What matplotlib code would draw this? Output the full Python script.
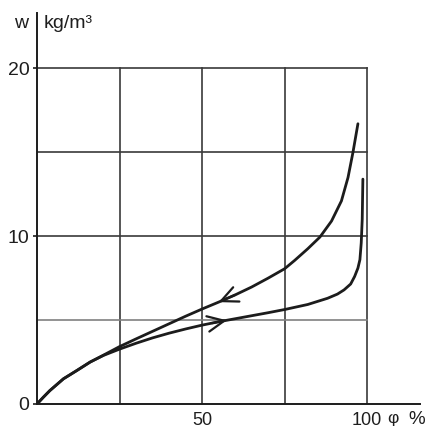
import matplotlib
matplotlib.use("Agg")
import matplotlib.pyplot as plt

# Data
adsorption_x = [0, 1.9, 3.9, 8, 12.1, 16.1, 20.2, 25, 30, 35, 40, 45, 50, 55, 60, 65, 70, 75,
                82, 88, 91, 93, 95, 96.2, 97.2, 97.8, 98.2, 98.5, 98.7]
adsorption_y = [0, 0.4, 0.8, 1.5, 2.0, 2.5, 2.9, 3.27, 3.62, 3.94, 4.22, 4.47, 4.7, 4.9, 5.08, 5.26, 5.44, 5.63,
                5.93, 6.3, 6.55, 6.8, 7.15, 7.6, 8.1, 8.6, 9.6, 11.0, 13.4]
desorption_x = [0, 1.9, 3.9, 8, 12.1, 16.1, 20.2, 25, 30, 35, 40, 45, 50, 55, 60, 65, 70, 75,
                78, 82, 85.7, 89.2, 92.2, 94.2, 95.7, 97.2]
desorption_y = [0, 0.4, 0.8, 1.5, 2.0, 2.5, 2.92, 3.42, 3.88, 4.33, 4.78, 5.23, 5.66, 6.07, 6.5, 6.97, 7.5, 8.06,
                8.55, 9.25, 9.95, 10.9, 12.1, 13.5, 15.0, 16.7]
grid_x = [25, 50, 75, 100]
grid_y = [5, 10, 15, 20]
xtick_vals = [50, 100]
xtick_labels = ["50", "100"]
ytick_vals = [0, 10, 20]
ytick_labels = ["0", "10", "20"]

plt.rcParams['font.family'] = ['Liberation Sans', 'DejaVu Sans']

W, H = 429, 428
fig = plt.figure(figsize=(W / 100, H / 100), dpi=100)
ax = fig.add_axes([37 / W, (H - 404) / H, (420 - 37) / W, (404 - 13) / H])
ax.set_xlim(0, 116)
ax.set_ylim(0, 23.3)

ink = '#1c1c1c'
txt = '#1e1e1e'
for gx in grid_x:
    ax.plot([gx, gx], [0, 20], color='#3a3a3a', lw=1.2, zorder=1)
for gy in grid_y:
    c = '#808080' if gy == 5 else '#3a3a3a'
    ax.plot([0, 100], [gy, gy], color=c, lw=1.2, zorder=1)

ax.plot(adsorption_x, adsorption_y, color=ink, lw=2.0, zorder=3,
        solid_capstyle='round', solid_joinstyle='round')
ax.plot(desorption_x, desorption_y, color=ink, lw=2.0, zorder=3,
        solid_capstyle='round', solid_joinstyle='round')

# direction arrows (open chevrons)
head = '->, head_length=0.6, head_width=0.28'
ax.annotate('', xy=(55.0, 6.07), xytext=(60, 6.5),
            arrowprops=dict(arrowstyle=head, color=ink, lw=1.6, mutation_scale=20,
                            shrinkA=0, shrinkB=0), zorder=4)
ax.annotate('', xy=(57.5, 4.99), xytext=(53, 4.82),
            arrowprops=dict(arrowstyle=head, color=ink, lw=1.6, mutation_scale=20,
                            shrinkA=0, shrinkB=0), zorder=4)

for s in ['top', 'right']:
    ax.spines[s].set_visible(False)
for s in ['left', 'bottom']:
    ax.spines[s].set_color(ink)
    ax.spines[s].set_linewidth(1.4)

ax.set_xticks(xtick_vals)
ax.set_xticklabels(xtick_labels)
ax.set_yticks(ytick_vals)
ax.set_yticklabels(ytick_labels)
ax.tick_params(axis='x', length=0, pad=6, labelsize=13, labelcolor=txt)
ax.tick_params(axis='y', length=3, width=1.2, color=ink, pad=2.5, labelsize=14, labelcolor=txt)

fig.text(387 / W, 1 - 419 / H, 'φ', fontsize=12.5, color=txt, va='center', ha='left')
fig.text(408 / W, 1 - 419 / H, '%', fontsize=13.5, color=txt, va='center', ha='left')
fig.text(14 / W, 1 - 24 / H, 'w', fontsize=14, color=txt, va='center', ha='left')
fig.text(44 / W, 1 - 24 / H, 'kg/m³', fontsize=14, color=txt, va='center', ha='left')

fig.savefig('out.png', dpi=100)
